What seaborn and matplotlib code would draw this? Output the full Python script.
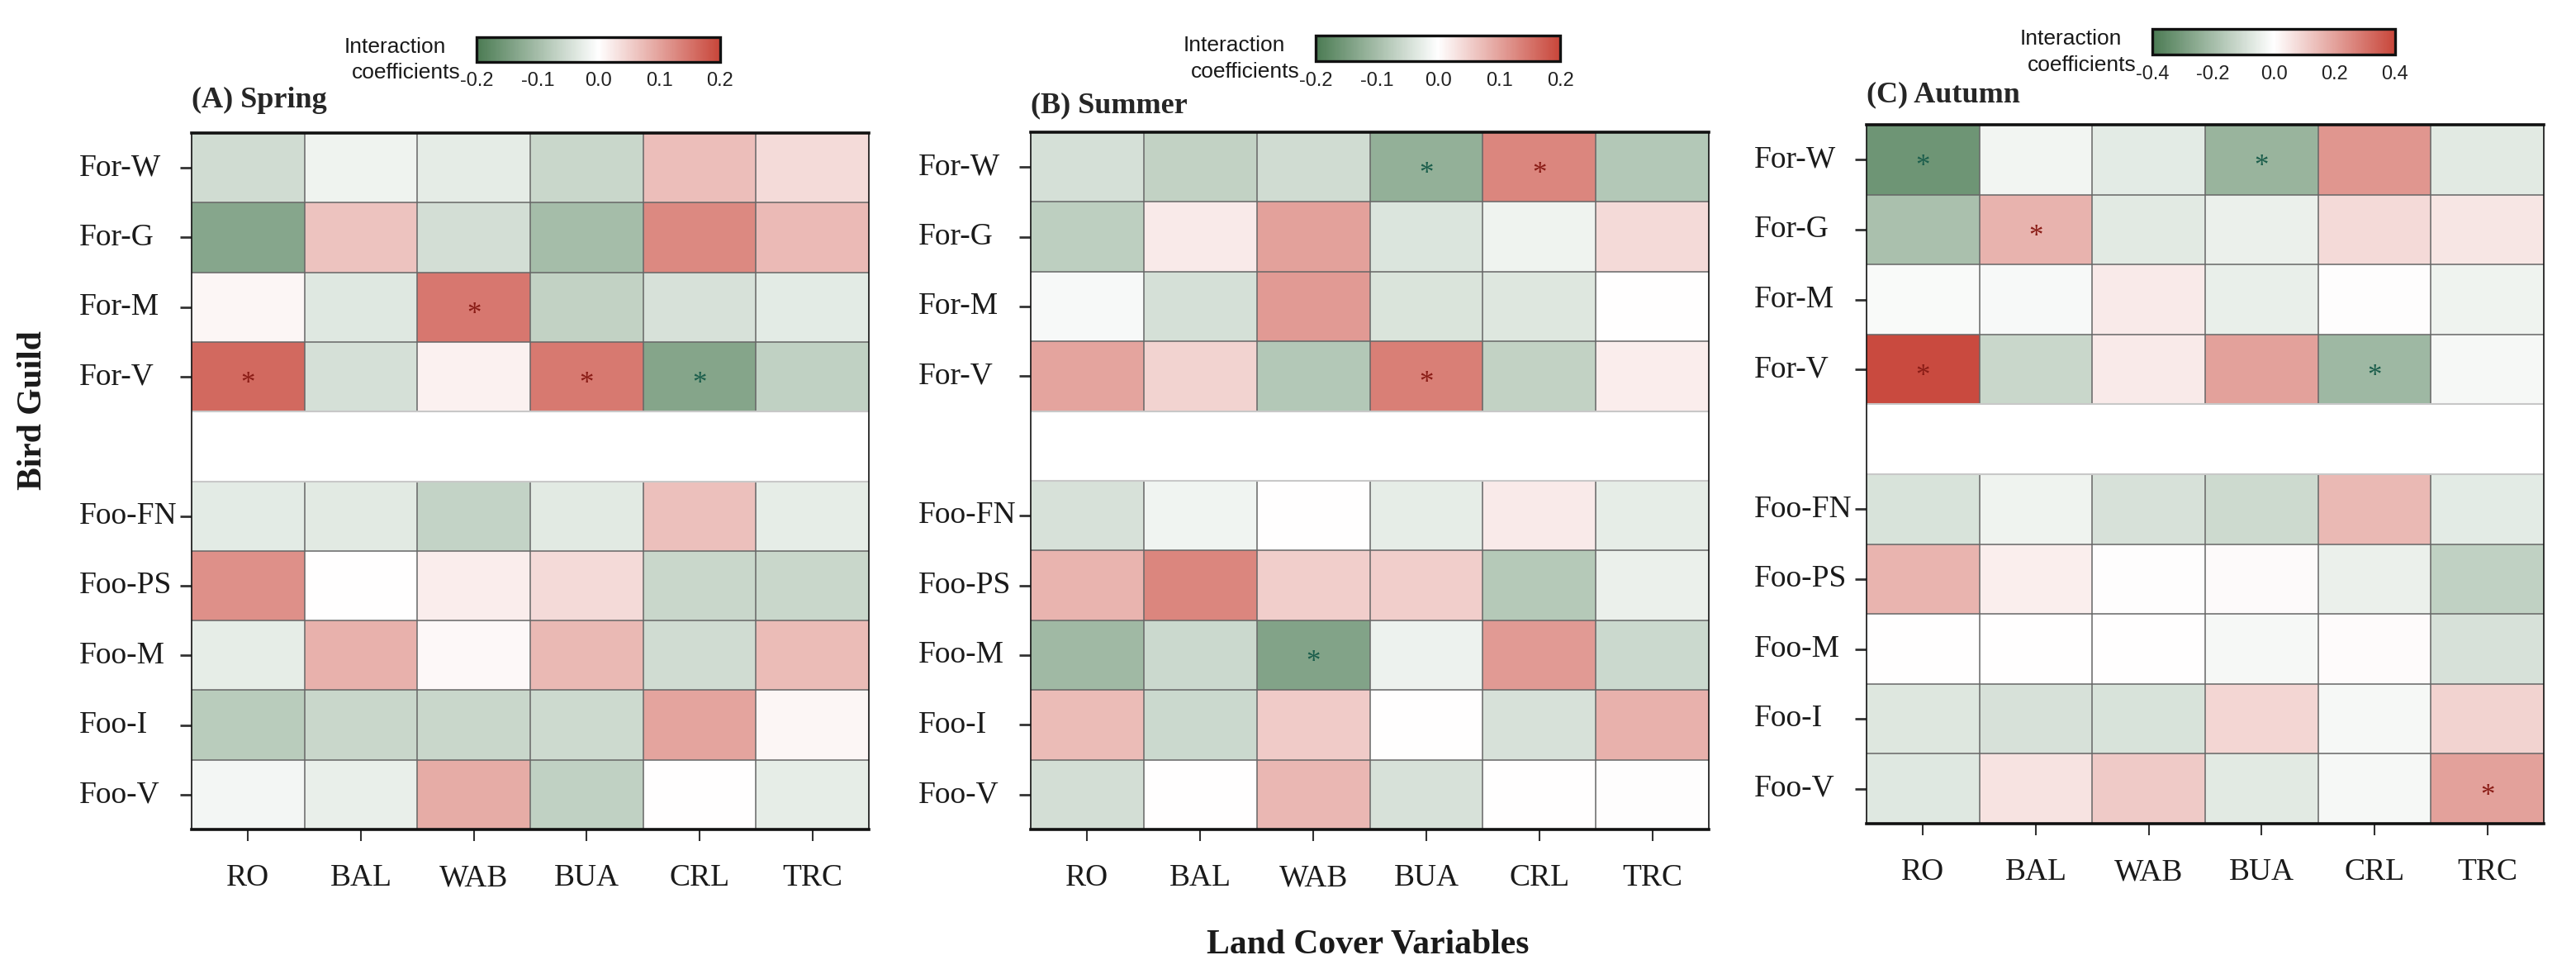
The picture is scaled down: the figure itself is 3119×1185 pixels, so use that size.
import matplotlib
matplotlib.use('Agg')
import matplotlib.pyplot as plt
from matplotlib.colors import LinearSegmentedColormap

import numpy as np
import pandas as pd
import seaborn as sns


# ---- data ----
land_cover = ['RO', 'BAL', 'WAB', 'BUA', 'CRL', 'TRC']
forest_guilds = ['For-W', 'For-G', 'For-M', 'For-V']
food_guilds = ['Foo-FN', 'Foo-PS', 'Foo-M', 'Foo-I', 'Foo-V']

spring_for = [[-0.052, -0.018, -0.029, -0.060, 0.069, 0.038],
              [-0.134, 0.065, -0.050, -0.100, 0.127, 0.074],
              [0.010, -0.035, 0.146, -0.068, -0.045, -0.030],
              [0.162, -0.046, 0.015, 0.145, -0.135, -0.070]]
spring_foo = [[-0.030, -0.032, -0.067, -0.032, 0.068, -0.028],
              [0.120, 0.000, 0.020, 0.040, -0.060, -0.060],
              [-0.027, 0.083, 0.007, 0.075, -0.052, 0.072],
              [-0.077, -0.060, -0.060, -0.056, 0.098, 0.010],
              [-0.013, -0.025, 0.090, -0.070, 0.000, -0.027]]
spring_sig = [('For-M', 'WAB'), ('For-V', 'RO'), ('For-V', 'BUA'), ('For-V', 'CRL')]

summer_for = [[-0.046, -0.068, -0.052, -0.120, 0.130, -0.083],
              [-0.073, 0.022, 0.100, -0.040, -0.018, 0.040],
              [-0.008, -0.046, 0.108, -0.042, -0.036, 0.000],
              [0.098, 0.047, -0.084, 0.139, -0.068, 0.020]]
summer_foo = [[-0.045, -0.016, 0.000, -0.027, 0.022, -0.027],
              [0.080, 0.130, 0.052, 0.053, -0.082, -0.022],
              [-0.106, -0.057, -0.138, -0.020, 0.108, -0.057],
              [0.073, -0.057, 0.055, 0.000, -0.045, 0.083],
              [-0.050, 0.000, 0.077, -0.045, 0.000, 0.003]]
summer_sig = [('For-W', 'BUA'), ('For-W', 'CRL'), ('For-V', 'BUA'), ('Foo-M', 'WAB')]

autumn_for = [[-0.320, -0.030, -0.060, -0.228, 0.225, -0.065],
              [-0.190, 0.165, -0.065, -0.045, 0.080, 0.055],
              [-0.015, -0.016, 0.045, -0.050, 0.004, -0.035],
              [0.390, -0.120, 0.045, 0.200, -0.215, -0.020]]
autumn_foo = [[-0.085, -0.035, -0.090, -0.110, 0.150, -0.060],
              [0.160, 0.035, 0.005, 0.010, -0.045, -0.140],
              [0.000, 0.000, 0.002, -0.020, 0.008, -0.090],
              [-0.075, -0.090, -0.085, 0.090, -0.020, 0.095],
              [-0.070, 0.060, 0.115, -0.065, -0.020, 0.200]]
autumn_sig = [('For-W', 'RO'), ('For-W', 'BUA'), ('For-G', 'BAL'),
              ('For-V', 'RO'), ('For-V', 'CRL'), ('Foo-V', 'TRC')]

titles = ['(A) Spring', '(B) Summer', '(C) Autumn']
limits = [0.2, 0.2, 0.4]
cbar_ticks = [[-0.2, -0.1, 0.0, 0.1, 0.2],
              [-0.2, -0.1, 0.0, 0.1, 0.2],
              [-0.4, -0.2, 0.0, 0.2, 0.4]]

# ---- layout (pixel boxes x0, y0, x1, y1 in the 3119x1185 canvas) ----
W, H, DPI = 3119, 1185, 100
ax_boxes = [(232, 161, 1052, 1004), (1248, 160, 2069, 1004), (2260, 151, 3080, 997)]
cb_boxes = [(577, 45, 872, 75), (1593, 43, 1889, 74), (2606, 35, 2900, 66)]
title_pads = [22, 17, 20]

SERIF = ['Liberation Serif', 'DejaVu Serif']
SANS = ['Liberation Sans', 'DejaVu Sans']

sns.set_style('white')
plt.rcParams['font.family'] = SERIF
plt.rcParams['axes.unicode_minus'] = False

cmap = LinearSegmentedColormap.from_list('gwr', ['#4b7b53', '#ffffff', '#c8463a'])
pos_star, neg_star = '#8a1c16', '#1c5e4c'
STAR_PT = 25


def px_box(x0, y0, x1, y1):
    return [x0 / W, 1 - y1 / H, (x1 - x0) / W, (y1 - y0) / H]


fig = plt.figure(figsize=(W / DPI, H / DPI), dpi=DPI)
fig.patch.set_facecolor('white')

seasons = [(spring_for, spring_foo, spring_sig),
           (summer_for, summer_foo, summer_sig),
           (autumn_for, autumn_foo, autumn_sig)]

for k, (v_for, v_foo, sig) in enumerate(seasons):
    rows = forest_guilds + [''] + food_guilds
    vals = np.vstack([np.array(v_for), np.full((1, len(land_cover)), np.nan), np.array(v_foo)])
    df = pd.DataFrame(vals, index=rows, columns=land_cover)
    ncol, nrow = len(land_cover), len(rows)
    gap = len(forest_guilds)

    ax = fig.add_axes(px_box(*ax_boxes[k]))
    cax = fig.add_axes(px_box(*cb_boxes[k]))
    lim = limits[k]
    sns.heatmap(df, ax=ax, cmap=cmap, vmin=-lim, vmax=lim, linewidths=0,
                cbar_ax=cax, cbar_kws=dict(orientation='horizontal', ticks=cbar_ticks[k]))

    # cell borders, none inside the spacer row
    for y0, y1 in [(0, gap), (gap + 1, nrow)]:
        ax.vlines(np.arange(1, ncol), y0, y1, color='#666666', lw=1.1)
        ax.hlines(np.arange(y0 + 1, y1), 0, ncol, color='#666666', lw=1.1)
    ax.hlines([gap, gap + 1], 0, ncol, color='#c8c8c8', lw=1.5)

    # y ticks: skip the spacer row, labels left aligned
    keep = [i for i, r in enumerate(rows) if r]
    ax.set_yticks([i + 0.5 for i in keep])
    ax.set_yticklabels([rows[i] for i in keep], rotation=0, ha='left')
    ax.tick_params(axis='y', left=True, length=10, width=2, color='#333333',
                   pad=88, labelsize=27, labelcolor='#1a1a1a')
    ax.set_xticklabels(land_cover, rotation=0)
    ax.tick_params(axis='x', bottom=True, length=10, width=1.5, color='#333333',
                   pad=20, labelsize=27, labelcolor='#1a1a1a')
    ax.set_xlabel('')
    ax.set_ylabel('')

    for side, sp in ax.spines.items():
        sp.set_visible(True)
        sp.set_color('#111111')
        sp.set_linewidth(2.6 if side in ('top', 'bottom') else 1.2)

    ax.set_title(titles[k], loc='left', pad=title_pads[k], fontsize=26,
                 fontweight='bold', family=SERIF)

    # significance stars, glyph centred in the cell
    row_px = (ax_boxes[k][3] - ax_boxes[k][1]) / nrow
    dy = 0.52 * STAR_PT * DPI / 72 / row_px
    for g, c in sig:
        i, j = rows.index(g), land_cover.index(c)
        v = df.loc[g, c]
        ax.text(j + 0.5, i + 0.5 + dy, '*', ha='center', va='baseline',
                fontsize=STAR_PT, family=SERIF, color=pos_star if v > 0 else neg_star)

    # colorbar styling
    cb = ax.collections[0].colorbar
    cb.outline.set_linewidth(2.4)
    cb.outline.set_edgecolor('#111111')
    cb.set_ticks(cbar_ticks[k], labels=['%.1f' % t for t in cbar_ticks[k]])
    cax.tick_params(direction='in', length=7, width=1, color='#555555',
                    top=True, bottom=True, labelsize=17, pad=9, labelcolor='#222222')
    for t in cax.get_xticklabels():
        t.set_family(SANS)

    x0, y0, x1, y1 = cb_boxes[k]
    yc = (y0 + y1) / 2
    fig.text((x0 - 99) / W, 1 - (yc - 3) / H, 'Interaction', ha='center', va='center',
             fontsize=19, family=SANS, color='#1a1a1a')
    fig.text((x0 - 85) / W, 1 - (yc + 28) / H, 'coefficients', ha='center', va='center',
             fontsize=19, family=SANS, color='#1a1a1a')

fig.text(40 / W, 1 - 497 / H, 'Bird Guild', rotation=90, ha='center', va='center',
         fontsize=30, fontweight='bold', family=SERIF, color='#1a1a1a')
fig.text(1656 / W, 1 - 1143 / H, 'Land Cover Variables', ha='center', va='center',
         fontsize=30, fontweight='bold', family=SERIF, color='#1a1a1a')

fig.savefig('out.png', dpi=DPI, facecolor='white')
